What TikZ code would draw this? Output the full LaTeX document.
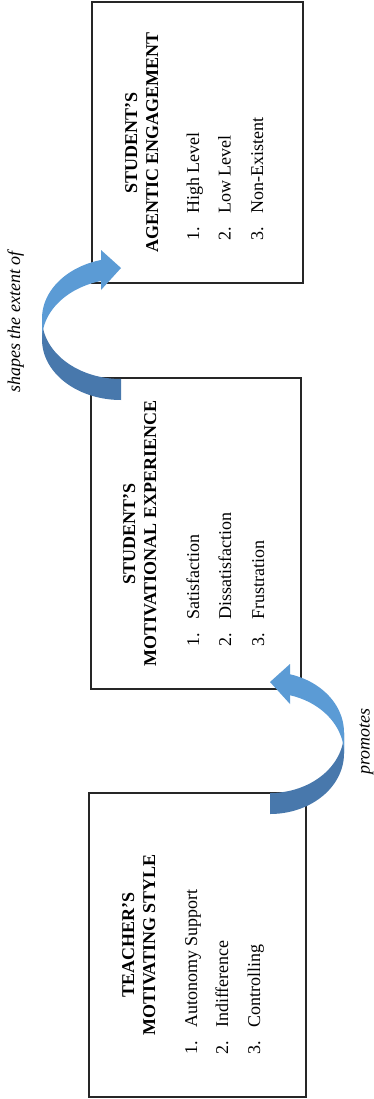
\documentclass[tikz,border=0pt]{standalone}
\usepackage{fontspec}
\setmainfont{Liberation Serif}
\definecolor{arrlight}{HTML}{5B9BD5}
\definecolor{arrdark}{HTML}{4878AC}
\definecolor{boxline}{HTML}{262626}
\newcommand\litem[2]{\makebox[20.25pt][l]{#1}#2}
% curved ribbon arrow: #1 tip coordinate, #2 x direction (1 = bulge left, -1 = bulge right), #3 horizontal radius
\newcommand\ribbonarrow[3]{%
  \pgfmathsetmacro\tz{180+acos(20/#3)}%
  \begin{scope}[shift={(#1)}, xscale=#2]
    \fill[arrdark] plot[domain=180:90, samples=40, variable=\t] ({#3*cos(\t)}, {71.5+60.5*sin(\t)})
      -- plot[domain=90:180, samples=40, variable=\t] ({#3*cos(\t)}, {50.5+60.5*sin(\t)}) -- cycle;
    \fill[arrlight] plot[domain=\tz:180, samples=40, variable=\t] ({#3*cos(\t)}, {50.5+60.5*sin(\t)})
      -- plot[domain=180:\tz, samples=40, variable=\t] ({#3*cos(\t)}, {71.5+60.5*sin(\t)}) -- cycle;
    \fill[arrlight] (-20,-18) -- (0,0) -- (-20,22) -- cycle;
  \end{scope}}
\begin{document}
\begin{tikzpicture}[x=0.75pt, y=-0.75pt, font=\fontsize{13.5}{16}\selectfont]
\tikzset{
  boxst/.style={draw=boxline, line width=0.95pt, fill=white, inner sep=0pt},
  ttl/.style={rotate=90, anchor=base, inner sep=0pt, font=\fontsize{13.5}{16}\selectfont\bfseries},
  itm/.style={rotate=90, anchor=base west, inner sep=0pt},
  lbl/.style={rotate=90, anchor=base, inner sep=0pt, font=\fontsize{13.5}{16}\selectfont\itshape},
}
\useasboundingbox (0,0) rectangle (374,1099);
% boxes
\node[boxst, minimum width=158.25pt, minimum height=210.75pt] (agent) at (197.5,142.5) {};
\node[boxst, minimum width=157.5pt, minimum height=233.25pt] (motiv) at (196,533.5) {};
\node[boxst, minimum width=162.75pt, minimum height=228pt] (teach) at (197.5,945) {};
% arrows
\coordinate (tipA) at (121,268);
\coordinate (tipB) at (270,682);
\ribbonarrow{tipA}{1}{79}
\ribbonarrow{tipB}{-1}{74}
% top box text
\node[ttl] (agentT1) at (137,142.5) {STUDENT’S};
\node[ttl] (agentT2) at (158,142.5) {AGENTIC ENGAGEMENT};
\node[itm] (agent1) at (199,241) {\litem{1.}{High Level}};
\node[itm] (agent2) at (230.5,241) {\litem{2.}{Low Level}};
\node[itm] (agent3) at (263,241) {\litem{3.}{Non-Existent}};
% middle box text
\node[ttl] (motivT1) at (135,533.5) {STUDENT’S};
\node[ttl] (motivT2) at (156,533.5) {MOTIVATIONAL EXPERIENCE};
\node[itm] (motiv1) at (199,647) {\litem{1.}{Satisfaction}};
\node[itm] (motiv2) at (231,647) {\litem{2.}{Dissatisfaction}};
\node[itm] (motiv3) at (264,647) {\litem{3.}{Frustration}};
% bottom box text
\node[ttl] (teachT1) at (134,945) {TEACHER’S};
\node[ttl] (teachT2) at (155,945) {MOTIVATING STYLE};
\node[itm] (teach1) at (197,1055) {\litem{1.}{Autonomy Support}};
\node[itm] (teach2) at (228,1055) {\litem{2.}{Indifference}};
\node[itm] (teach3) at (260,1055) {\litem{3.}{Controlling}};
% labels
\node[lbl] (lblA) at (20,322) {shapes the extent of};
\node[lbl] (lblB) at (369.5,741.5) {promotes};
\end{tikzpicture}
\end{document}
